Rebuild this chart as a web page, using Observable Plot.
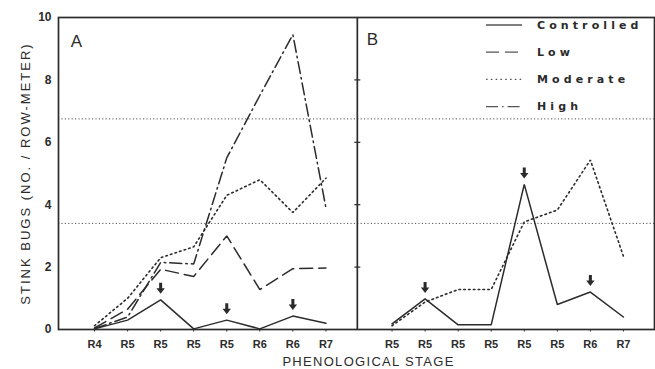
<!DOCTYPE html>
<html><head><meta charset="utf-8">
<script src="https://cdn.jsdelivr.net/npm/d3@7"></script>
<script src="https://cdn.jsdelivr.net/npm/@observablehq/plot@0.6"></script>
<style>
html,body{margin:0;padding:0;background:#fff;}
#chart svg{display:block;}
#chart [aria-label="y-axis tick label"] text{font-weight:bold;}
#chart [aria-label="x-axis tick label"] text{font-weight:bold;}
</style>
</head><body><div id="chart"></div>
<script>
// Panel A stages (x tick labels) and series
const stagesA = ["R4","R5","R5","R5","R5","R6","R6","R7"];
const stagesB = ["R5","R5","R5","R5","R5","R5","R6","R7"];
const aControlled = [0.02, 0.3, 0.95, 0.02, 0.3, 0.02, 0.43, 0.2];
const aLow        = [0.05, 0.65, 1.93, 1.7, 3.0, 1.28, 1.95, 1.97];
const aModerate   = [0.12, 1.0, 2.3, 2.65, 4.3, 4.8, 3.75, 4.85];
const aHigh       = [0.03, 0.4, 2.15, 2.1, 5.5, 7.5, 9.45, 3.9];
// Panel B series
const bControlled = [0.18, 0.98, 0.15, 0.15, 4.65, 0.8, 1.2, 0.4];
const bModerate   = [0.12, 0.88, 1.28, 1.28, 3.45, 3.83, 5.43, 2.35];
// arrow (application) stage indices
const arrowsA = [2, 4, 6];
const arrowsB = [1, 4, 6];
// horizontal threshold lines
const thresholds = [3.4, 6.75];
const yTicks = [0, 2, 4, 6, 8, 10];
const seriesNames = ["Controlled", "Low", "Moderate", "High"];

const offsetB = 9;       // panel B index offset
const divider = 7.95;    // panel separator position

const rows = (arr, off) => arr.map((v, i) => ({x: i + off, y: v}));
const ticksAll = [...stagesA.map((s, i) => ({x: i, s})), ...stagesB.map((s, i) => ({x: i + offsetB, s}))];
const arrowPts = [...arrowsA.map(i => ({x: i, y: aControlled[i]})), ...arrowsB.map(i => ({x: i + offsetB, y: bControlled[i]}))];

const ink = "#2b2b2b";
const styles = {
  Controlled: {strokeDasharray: null, strokeWidth: 1.5},
  Low: {strokeDasharray: "13 6", strokeWidth: 1.5},
  Moderate: {strokeDasharray: "1.6 3.2", strokeWidth: 1.6},
  High: {strokeDasharray: "12 4 1.6 4", strokeWidth: 1.5}
};

const arrowShape = {
  draw(context, l) {
    const h = 5.5;
    context.moveTo(-1.5, 0);
    context.lineTo(-1.5, -l + h);
    context.lineTo(-4.2, -l + h);
    context.lineTo(0, -l);
    context.lineTo(4.2, -l + h);
    context.lineTo(1.5, -l + h);
    context.lineTo(1.5, 0);
    context.closePath();
  }
};
const hTick = {draw(c, size) { const r = Math.sqrt(size / Math.PI); c.moveTo(-r, 0); c.lineTo(r, 0); }};

const line = (data, name) => Plot.line(data, {x: "x", y: "y", stroke: ink, strokeDasharray: styles[name].strokeDasharray, strokeWidth: styles[name].strokeWidth, strokeLinejoin: "miter"});

const chart = Plot.plot({
  width: 655, height: 369,
  marginLeft: 58, marginRight: 1, marginTop: 17, marginBottom: 40,
  style: {fontFamily: "Liberation Sans, Arial, sans-serif", fontSize: "11px", background: "#fff", color: ink},
  x: {type: "linear", domain: [-1.09, 16.94]},
  y: {domain: [0, 10]},
  marks: [
    Plot.ruleY(thresholds, {stroke: "#555", strokeDasharray: "1.2 2.2", strokeWidth: 1}),
    line(rows(aControlled, 0), "Controlled"),
    line(rows(aLow, 0), "Low"),
    line(rows(aModerate, 0), "Moderate"),
    line(rows(aHigh, 0), "High"),
    line(rows(bControlled, offsetB), "Controlled"),
    line(rows(bModerate, offsetB), "Moderate"),
    Plot.vector(arrowPts, {x: "x", y: "y", length: 11, rotate: 180, anchor: "end", dy: -6, shape: arrowShape, fill: ink, stroke: "none"}),
    Plot.frame({stroke: ink, strokeWidth: 1.7}),
    Plot.ruleX([divider], {stroke: ink, strokeWidth: 1.7}),
    Plot.dot(yTicks.filter(v => v > 0 && v < 10), {x: () => divider, y: d => d, symbol: hTick, r: 3, stroke: ink, strokeWidth: 1.2}),
    Plot.axisY({ticks: yTicks, tickSize: 0, tickPadding: 7, fontSize: 12, label: null}),
    Plot.axisX({ticks: ticksAll.map(d => d.x), tickFormat: (x) => (ticksAll.find(d => d.x === x) || {}).s, tickSize: 2.5, tickPadding: 8, fontSize: 11, label: null}),
    Plot.text(["A"], {frameAnchor: "top-left", dx: 18, dy: 24, textAnchor: "middle", lineAnchor: "middle", fontSize: 17, fill: ink}),
    Plot.text(["B"], {x: () => divider, frameAnchor: "top", dx: 15, dy: 22, textAnchor: "middle", lineAnchor: "middle", fontSize: 17, fill: ink}),
    Plot.text(["PHENOLOGICAL STAGE"], {frameAnchor: "bottom", dx: 12, dy: 32, textAnchor: "middle", lineAnchor: "middle", fontSize: 13, fill: ink}),
    Plot.text(["STINK BUGS (NO. / ROW-METER)"], {frameAnchor: "left", dx: -33, rotate: -90, textAnchor: "middle", lineAnchor: "middle", fontSize: 13, fill: ink})
  ]
});
document.getElementById("chart").appendChild(chart);

// letter spacing for axis titles
d3.select(chart).selectAll("text").filter(function() { return /PHENOLOGICAL/.test(this.textContent); }).style("letter-spacing", "1.3px");
d3.select(chart).selectAll("text").filter(function() { return /STINK/.test(this.textContent); }).style("letter-spacing", "2px");

// Legend inside panel B
const svg = d3.select(chart);
const lg = svg.append("g").attr("font-family", "DejaVu Sans, sans-serif").attr("font-size", 11).attr("font-weight", "bold").attr("fill", ink).attr("text-anchor", "start");
seriesNames.forEach((name, k) => {
  const yy = 25 + k * 27.2;
  lg.append("line").attr("x1", 486).attr("x2", 522).attr("y1", yy).attr("y2", yy)
    .attr("stroke", "#555").attr("stroke-width", 1.3).attr("stroke-dasharray", styles[name].strokeDasharray);
  lg.append("text").attr("x", 537).attr("y", yy).attr("dy", "0.35em").attr("text-anchor", "start").style("letter-spacing", "4.1px").text(name);
});
</script>
</body></html>
